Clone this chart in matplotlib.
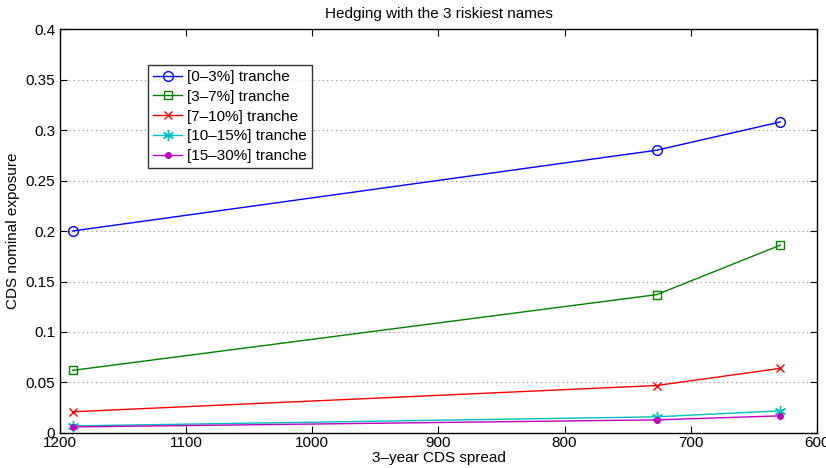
import numpy as np
import matplotlib
matplotlib.use("Agg")
import matplotlib.pyplot as plt

plt.rcParams['font.family'] = ['Liberation Sans', 'DejaVu Sans']

# 3-year CDS spread of the hedging points
spread = [1190, 727, 629]

# CDS nominal exposure for each tranche
exp_0_3 = [0.200, 0.280, 0.308]
exp_3_7 = [0.062, 0.137, 0.186]
exp_7_10 = [0.021, 0.047, 0.064]
exp_10_15 = [0.007, 0.016, 0.022]
exp_15_30 = [0.006, 0.013, 0.017]

labels = ['[0\u20133%] tranche', '[3\u20137%] tranche', '[7\u201310%] tranche',
          '[10\u201315%] tranche', '[15\u201330%] tranche']

fig = plt.figure(figsize=(8.26, 4.68), dpi=100)
ax = fig.add_axes([0.0726, 0.0748, 0.9164, 0.8632])

ax.plot(spread, exp_0_3, '-o', color=(0, 0, 1), lw=1, ms=7, mfc='none', mew=1, label=labels[0])
ax.plot(spread, exp_3_7, '-s', color=(0, 0.5, 0), lw=1, ms=6, mfc='none', mew=1, label=labels[1])
ax.plot(spread, exp_7_10, '-x', color=(1, 0, 0), lw=1, ms=6, mew=1, label=labels[2])
ax.plot(spread, exp_10_15, '-', color=(0, 0.75, 0.75), lw=1, label=labels[3],
        marker=(6, 2, 0), ms=8, mew=1)
ax.plot(spread, exp_15_30, '-o', color=(0.75, 0, 0.75), lw=1, ms=4, label=labels[4])

ax.set_xlim(1200, 600)
ax.set_ylim(0, 0.4)
ax.set_xticks(np.arange(600, 1201, 100))
ax.set_yticks(np.arange(0, 0.401, 0.05))
ax.set_yticklabels(['0', '0.05', '0.1', '0.15', '0.2', '0.25', '0.3', '0.35', '0.4'])
ax.yaxis.grid(True, linestyle=(0, (1, 3)), color='#888888', lw=0.8)
ax.tick_params(direction='in', top=True, right=True, length=5, labelsize=11)
ax.tick_params(axis='x', pad=2)
for s in ax.spines.values():
    s.set_linewidth(1)

ax.set_title('Hedging with the 3 riskiest names', fontsize=11, pad=8)
ax.set_xlabel('3\u2013year CDS spread', fontsize=11, labelpad=1)
ax.set_ylabel('CDS nominal exposure', fontsize=11)

leg = ax.legend(loc='upper left', bbox_to_anchor=(0.116, 0.912), fontsize=11,
                frameon=True, fancybox=False, edgecolor='black', borderpad=0.35,
                labelspacing=0.38, handlelength=1.9, handletextpad=0.3, borderaxespad=0)
leg.get_frame().set_linewidth(1)

fig.savefig('out.png', dpi=100)
